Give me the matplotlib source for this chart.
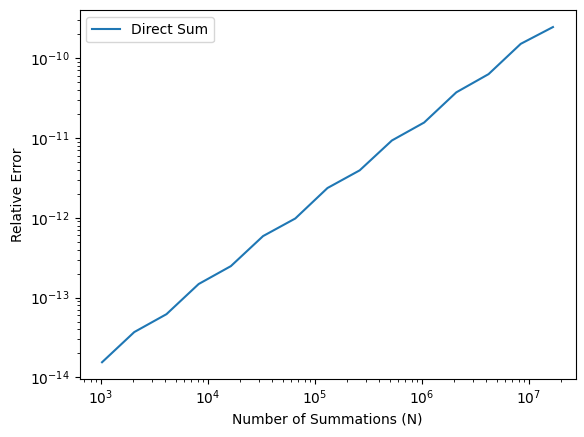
import matplotlib
matplotlib.use('Agg')
import matplotlib.pyplot as plt

# number of summations, 2^10 .. 2^24
n_values = [2 ** k for k in range(10, 25)]

# relative error
rel_error = [1.55e-14, 3.7e-14, 6.2e-14, 1.48e-13, 2.48e-13,
             5.9e-13, 9.8e-13, 2.36e-12, 3.93e-12, 9.3e-12,
             1.56e-11, 3.73e-11, 6.3e-11, 1.51e-10, 2.45e-10]

fig = plt.figure(figsize=(5.84, 4.37), dpi=100)
ax = fig.add_subplot(111)
fig.subplots_adjust(left=79.5 / 584, right=575.5 / 584, top=1 - 10.3 / 437, bottom=1 - 379 / 437)

ax.plot(n_values, rel_error, label='Direct Sum')
ax.set_xscale('log')
ax.set_yscale('log')
ax.set_xlabel('Number of Summations (N)')
ax.set_ylabel('Relative Error')
ax.legend(loc='upper left')

fig.savefig('out.png', dpi=100)
